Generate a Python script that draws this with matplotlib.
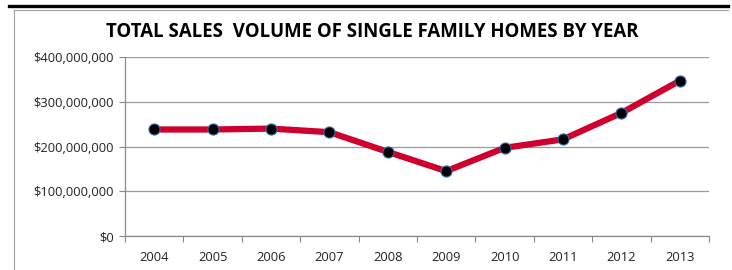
import matplotlib.pyplot as plt
from matplotlib.lines import Line2D
from matplotlib.ticker import FuncFormatter, FixedLocator

years = ["2004", "2005", "2006", "2007", "2008", "2009", "2010", "2011", "2012", "2013"]
sales = [238e6, 238e6, 240e6, 232e6, 188e6, 145e6, 197e6, 216e6, 275e6, 347e6]
y_ticks = [0, 100e6, 200e6, 300e6, 400e6]

W, H = 732, 270
fig = plt.figure(figsize=(W / 100, H / 100), dpi=100)
plt.rcParams['font.family'] = ['Open Sans', 'DejaVu Sans']

# page decorations: thick black rule and thin gray chart border
fig.add_artist(Line2D([9 / W, 728 / W], [1 - 5.5 / H, 1 - 5.5 / H], color='black', lw=2.4))
fig.add_artist(Line2D([14 / W, 728 / W], [1 - 9.5 / H, 1 - 9.5 / H], color='#a0a0a0', lw=0.8))
fig.add_artist(Line2D([14 / W, 14 / W], [1 - 9.5 / H, 0], color='#a0a0a0', lw=0.8))

ax = fig.add_axes([125 / W, 1 - 236 / H, (709 - 125) / W, (236 - 57) / H])

x = [i + 0.5 for i in range(len(years))]
ax.plot(x, sales, color='#d0002e', lw=4.5, solid_capstyle='round', zorder=3)
ax.plot(x, sales, 'o', color='black', markersize=8, markeredgecolor='#3b6fb0',
        markeredgewidth=0.8, zorder=4)

ax.set_xlim(0, len(years))
ax.set_ylim(0, 400e6)
ax.set_yticks(y_ticks)
ax.yaxis.set_major_formatter(FuncFormatter(lambda v, p: f"${v:,.0f}"))
ax.xaxis.set_major_locator(FixedLocator(range(len(years) + 1)))
ax.xaxis.set_major_formatter(FuncFormatter(lambda v, p: ""))
ax.set_xticks(x, minor=True)
ax.set_xticklabels(years, minor=True)
ax.tick_params(axis='x', which='minor', length=0, labelsize=9.3, pad=11, labelcolor='#222222')
ax.tick_params(axis='x', which='major', length=4, color='#888888')
ax.tick_params(axis='y', length=4, color='#888888', labelsize=9.3, pad=4, labelcolor='#222222')

ax.grid(axis='y', color='#9a9a9a', lw=0.9)
ax.set_axisbelow(True)
for s in ['top', 'right']:
    ax.spines[s].set_visible(False)
for s in ['left', 'bottom']:
    ax.spines[s].set_color('#8a8a8a')
    ax.spines[s].set_linewidth(0.9)

fig.text(372 / W, 1 - 32 / H, "TOTAL SALES  VOLUME OF SINGLE FAMILY HOMES BY YEAR",
         ha='center', va='center', fontsize=13.4, fontweight='bold')

fig.savefig('out.png', dpi=100)
